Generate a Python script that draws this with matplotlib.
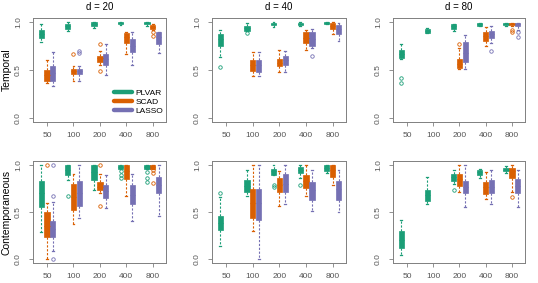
import matplotlib
matplotlib.use("Agg")
import matplotlib.pyplot as plt
from matplotlib.lines import Line2D

plt.rcParams['font.family'] = ['Liberation Sans', 'DejaVu Sans']

sizes = ["50", "100", "200", "400", "800"]
dims = [20, 40, 80]
rows = ["Temporal", "Contemporaneous"]
methods = ["PLVAR", "SCAD", "LASSO"]
colors = ["#1B9E77", "#D95F02", "#7570B3"]

# (whisker low, q1, median, q3, whisker high) per sample size, None = not run
T20_PLVAR = [(0.79, 0.83, 0.87, 0.92, 0.975), (0.91, 0.93, 0.96, 0.98, 0.995), (0.94, 0.96, 0.98, 1.0, 1.0),
             (0.965, 0.975, 0.99, 1.0, 1.0), (0.96, 0.975, 0.99, 1.0, 1.0)]
T20_SCAD = [(0.36, 0.39, 0.45, 0.50, 0.60), (0.39, 0.46, 0.49, 0.51, 0.54), (0.55, 0.58, 0.62, 0.65, 0.70),
            (0.67, 0.78, 0.84, 0.88, 0.89), (0.92, 0.93, 0.95, 0.97, 0.98)]
T20_LASSO = [(0.33, 0.39, 0.47, 0.54, 0.69), (0.39, 0.46, 0.49, 0.51, 0.54), (0.45, 0.55, 0.61, 0.67, 0.775),
             (0.55, 0.69, 0.75, 0.82, 0.89), (0.68, 0.77, 0.84, 0.89, 0.89)]
T20_PLVAR_out = [[], [], [], [], []]
T20_SCAD_out = [[], [0.67], [0.77, 0.49], [], [0.89, 0.85]]
T20_LASSO_out = [[], [0.70, 0.68], [], [], []]

T40_PLVAR = [(0.64, 0.75, 0.82, 0.87, 0.92), (0.91, 0.91, 0.94, 0.96, 0.99), (0.95, 0.965, 0.98, 0.99, 1.0),
             (0.96, 0.97, 0.98, 0.99, 1.0), (0.98, 0.98, 0.99, 1.0, 1.0)]
T40_SCAD = [None, (0.44, 0.49, 0.55, 0.60, 0.69), (0.48, 0.54, 0.57, 0.61, 0.71),
            (0.71, 0.78, 0.83, 0.89, 0.92), (0.875, 0.93, 0.96, 0.99, 1.0)]
T40_LASSO = [None, (0.44, 0.48, 0.55, 0.60, 0.69), (0.48, 0.55, 0.60, 0.65, 0.70),
             (0.73, 0.75, 0.82, 0.89, 0.93), (0.80, 0.875, 0.93, 0.97, 0.99)]
T40_PLVAR_out = [[0.53], [0.88], [], [], []]
T40_SCAD_out = [[], [], [], [], []]
T40_LASSO_out = [[], [], [], [0.65], []]

T80_PLVAR = [(0.615, 0.625, 0.67, 0.71, 0.765), (0.88, 0.885, 0.91, 0.93, 0.94), (0.90, 0.93, 0.96, 0.98, 0.98),
             (0.96, 0.96, 0.975, 0.99, 0.99), (0.96, 0.97, 0.98, 0.99, 0.99)]
T80_SCAD = [None, None, (0.51, 0.52, 0.56, 0.61, 0.73), (0.75, 0.80, 0.85, 0.89, 0.95),
            (0.96, 0.97, 0.98, 0.99, 0.99)]
T80_LASSO = [None, None, (0.51, 0.58, 0.68, 0.79, 0.86), (0.785, 0.83, 0.87, 0.91, 0.96),
             (0.92, 0.96, 0.98, 0.99, 0.99)]
T80_PLVAR_out = [[0.42, 0.36], [], [], [], []]
T80_SCAD_out = [[], [], [0.775], [], [0.92, 0.89]]
T80_LASSO_out = [[], [], [], [0.70], [0.89, 0.84]]

C20_PLVAR = [(0.29, 0.55, 0.70, 0.83, 1.0), (0.84, 0.89, 0.95, 1.0, 1.0), (0.73, 0.84, 0.92, 1.0, 1.0),
             (0.96, 0.96, 0.98, 1.0, 1.0), (0.96, 0.96, 0.98, 1.0, 1.0)]
C20_SCAD = [(0.0, 0.24, 0.35, 0.50, 0.60), (0.375, 0.52, 0.66, 0.80, 0.90), (0.70, 0.73, 0.77, 0.82, 0.90),
            (0.67, 0.85, 0.93, 1.0, 1.0), (0.96, 0.96, 0.98, 1.0, 1.0)]
C20_LASSO = [(0.09, 0.24, 0.32, 0.41, 0.61), (0.44, 0.56, 0.70, 0.83, 1.0), (0.54, 0.65, 0.72, 0.79, 0.89),
             (0.41, 0.58, 0.68, 0.79, 0.90), (0.46, 0.70, 0.79, 0.875, 1.0)]
C20_PLVAR_out = [[], [0.67], [], [0.93, 0.89, 0.86], [0.92, 0.86, 0.82]]
C20_SCAD_out = [[1.0], [], [1.0, 0.56], [], [0.94, 0.91, 0.81]]
C20_LASSO_out = [[1.0, 0.67, 0.0], [], [], [], []]

C40_PLVAR = [(0.14, 0.31, 0.38, 0.46, 0.66), (0.67, 0.71, 0.78, 0.84, 0.95), (0.89, 0.89, 0.93, 0.96, 1.0),
             (0.86, 0.91, 0.95, 0.98, 1.0), (0.91, 0.93, 0.97, 1.0, 1.0)]
C40_SCAD = [None, (0.30, 0.44, 0.60, 0.74, 1.0), (0.56, 0.71, 0.79, 0.86, 0.93),
            (0.67, 0.75, 0.83, 0.89, 1.0), (0.79, 0.875, 0.95, 1.0, 1.0)]
C40_LASSO = [None, (0.0, 0.42, 0.60, 0.74, 1.0), (0.58, 0.71, 0.80, 0.90, 1.0),
             (0.51, 0.63, 0.73, 0.82, 0.95), (0.50, 0.63, 0.74, 0.83, 0.94)]
C40_PLVAR_out = [[0.70], [], [0.79, 0.77], [0.79], []]
C40_SCAD_out = [[], [], [], [], []]
C40_LASSO_out = [[], [], [], [], []]

C80_PLVAR = [(0.04, 0.12, 0.20, 0.30, 0.42), (0.58, 0.62, 0.68, 0.73, 0.87), (0.80, 0.83, 0.87, 0.90, 0.94),
             (0.86, 0.89, 0.92, 0.95, 0.96), (0.91, 0.93, 0.95, 0.97, 0.99)]
C80_SCAD = [None, None, (0.71, 0.78, 0.85, 0.90, 1.0), (0.64, 0.69, 0.76, 0.82, 0.92),
            (0.71, 0.86, 0.93, 0.97, 1.0)]
C80_LASSO = [None, None, (0.55, 0.70, 0.77, 0.83, 1.0), (0.58, 0.70, 0.77, 0.84, 0.95),
             (0.55, 0.70, 0.78, 0.85, 0.95)]
C80_PLVAR_out = [[], [], [0.73], [], []]
C80_SCAD_out = [[], [], [], [], [0.66]]
C80_LASSO_out = [[], [], [], [], []]

panels = {
    (0, 0): [(T20_PLVAR, T20_PLVAR_out), (T20_SCAD, T20_SCAD_out), (T20_LASSO, T20_LASSO_out)],
    (0, 1): [(T40_PLVAR, T40_PLVAR_out), (T40_SCAD, T40_SCAD_out), (T40_LASSO, T40_LASSO_out)],
    (0, 2): [(T80_PLVAR, T80_PLVAR_out), (T80_SCAD, T80_SCAD_out), (T80_LASSO, T80_LASSO_out)],
    (1, 0): [(C20_PLVAR, C20_PLVAR_out), (C20_SCAD, C20_SCAD_out), (C20_LASSO, C20_LASSO_out)],
    (1, 1): [(C40_PLVAR, C40_PLVAR_out), (C40_SCAD, C40_SCAD_out), (C40_LASSO, C40_LASSO_out)],
    (1, 2): [(C80_PLVAR, C80_PLVAR_out), (C80_SCAD, C80_SCAD_out), (C80_LASSO, C80_LASSO_out)],
}

W, H = 538, 283
fig = plt.figure(figsize=(W / 100, H / 100), dpi=100)

col_px = [(33, 166), (212, 346), (393, 525)]
row_px = [(18, 122), (161, 263)]
offsets = [-0.22, 0.0, 0.22]
grey = "#808080"

for (r, c), series in panels.items():
    x0, x1 = col_px[c]
    y0, y1 = row_px[r]
    ax = fig.add_axes([x0 / W, 1 - y1 / H, (x1 - x0) / W, (y1 - y0) / H])
    for k, (boxes, outs) in enumerate(series):
        col = colors[k]
        stats, pos = [], []
        for g, b in enumerate(boxes):
            if b is None:
                continue
            lo, q1, med, q3, hi = b
            stats.append(dict(whislo=lo, q1=q1, med=med, q3=q3, whishi=hi, fliers=outs[g]))
            pos.append(g + 1 + offsets[k])
        ax.bxp(stats, positions=pos, widths=0.2, patch_artist=True, capwidths=0.07,
               boxprops=dict(facecolor=col, edgecolor=col, linewidth=0.5),
               whiskerprops=dict(color=col, linestyle=(0, (2, 1.5)), linewidth=0.8),
               capprops=dict(color=col, linewidth=0.9),
               medianprops=dict(color=col, linewidth=0.8),
               flierprops=dict(marker='o', markerfacecolor='none', markeredgecolor=col,
                               markersize=2.5, markeredgewidth=0.6))
    ax.set_xlim(0.47, 5.5)
    ax.set_ylim(-0.04, 1.04)
    ax.set_xticks(range(1, 6))
    ax.set_xticklabels(sizes)
    ax.set_yticks([0.0, 0.5, 1.0])
    ax.set_yticklabels(["0.0", "0.5", "1.0"], rotation=90, va='center')
    ax.tick_params(labelsize=6, colors=grey, labelcolor="#555555", length=3, width=0.6, pad=4.5)
    ax.tick_params(axis='y', pad=5)
    for s in ax.spines.values():
        s.set_color(grey)
        s.set_linewidth(0.7)
    if r == 0:
        ax.set_title("d = %d" % dims[c], fontsize=7, pad=6)
    if c == 0:
        fig.text(7 / W, 1 - (y0 + y1) / 2 / H, rows[r], rotation=90, fontsize=7.5,
                 ha='center', va='center')
    if (r, c) == (0, 0):
        handles = [Line2D([], [], color=col, lw=3.2, solid_capstyle='round') for col in colors]
        ax.legend(handles, methods, loc='upper left', bbox_to_anchor=(0.61, 0.32), frameon=False,
                  fontsize=6, handlelength=2.1, handletextpad=0.5, labelspacing=0.15, borderpad=0,
                  borderaxespad=0)

fig.savefig("out.png", dpi=100)
